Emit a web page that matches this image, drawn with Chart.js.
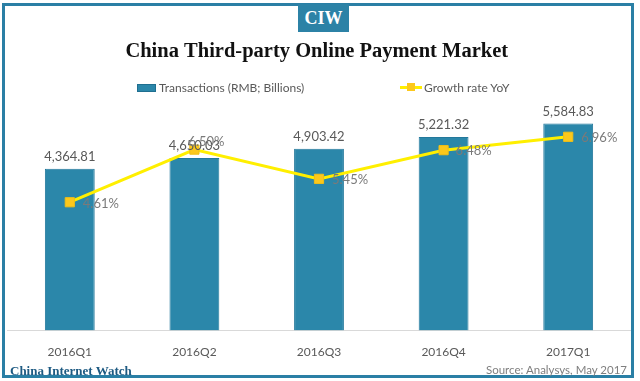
<!DOCTYPE html>
<html>
<head>
<meta charset="utf-8">
<script src="https://cdn.jsdelivr.net/npm/chart.js@4.4.1/dist/chart.umd.min.js"></script>
<style>
  html, body { margin: 0; padding: 0; background: #fff; }
  #wrap { position: relative; width: 640px; height: 381px; overflow: hidden; }
  #c { position: absolute; left: 0; top: 0; }
  #frame { position: absolute; left: 2px; top: 3px; width: 626px; height: 369px; border: 3px solid #2a7fa5; pointer-events: none; }
  #badge { position: absolute; left: 298px; top: 4px; width: 51px; height: 28px; background: #2c82a6; color: #fff;
           font: bold 18px "Liberation Serif", serif; text-align: center; line-height: 29px; }
  .leg { position: absolute; top: 80px; font: 12px Lato, sans-serif; color: #595959; line-height: 15px; white-space: nowrap; }
  #foot1 { position: absolute; left: 10px; top: 363px; font: bold 13px "Liberation Serif", serif; color: #1d5a82; white-space: nowrap; }
  #foot2 { position: absolute; right: 13px; top: 363px; font: 11.5px Lato, sans-serif; color: #7f7f7f; white-space: nowrap; }
</style>
</head>
<body>
<div id="wrap">
  <canvas id="c" width="640" height="381"></canvas>
  <div id="frame"></div>
  <div id="badge">CIW</div>
  <div class="leg" id="leg1" style="left:137px;"><span style="display:inline-block;width:17px;height:6px;background:#2b87aa;border:1px solid #1f6f90;vertical-align:middle;margin-right:3px;position:relative;top:-1px;"></span>Transactions (RMB; Billions)</div>
  <div class="leg" id="leg2" style="left:400px;"><span style="display:inline-block;width:22px;height:9px;position:relative;vertical-align:middle;margin-right:2px;top:-1px;"><span style="position:absolute;left:0;top:3px;width:22px;height:3px;background:#ffef00;"></span><span style="position:absolute;left:7px;top:0;width:8px;height:8px;background:#fcc81c;"></span></span>Growth rate YoY</div>
  <div id="foot1">China Internet Watch</div>
  <div id="foot2">Source: Analysys, May 2017</div>
</div>
<script>
// ---- data ----
const categories = ['2016Q1', '2016Q2', '2016Q3', '2016Q4', '2017Q1'];
const transactions = [4364.81, 4650.03, 4903.42, 5221.32, 5584.83];
const growthRate = [4.61, 6.50, 5.45, 6.48, 6.96];
const transactionLabels = ['4,364.81', '4,650.03', '4,903.42', '5,221.32', '5,584.83'];
const growthLabels = ['4.61%', '6.50%', '5.45%', '6.48%', '6.96%'];

// label placement style (offsets from the point, in px)
const growthLabelOffsets = [[13, 2], [-6, -8], [13, 1], [12, 1], [13, 1]];

const labelPlugin = {
  id: 'valueLabels',
  afterDatasetsDraw(chart) {
    const ctx = chart.ctx;
    ctx.save();
    const barMeta = chart.getDatasetMeta(0);
    ctx.font = '13px Lato, sans-serif';
    ctx.fillStyle = '#595959';
    ctx.textAlign = 'center';
    ctx.textBaseline = 'middle';
    barMeta.data.forEach((el, i) => {
      ctx.fillText(transactionLabels[i], el.x, el.y - 12);
    });
    const lineMeta = chart.getDatasetMeta(1);
    ctx.fillStyle = '#7a7a7a';
    ctx.textAlign = 'left';
    lineMeta.data.forEach((el, i) => {
      const o = growthLabelOffsets[i];
      ctx.fillText(growthLabels[i], el.x + o[0], el.y + o[1]);
    });
    ctx.restore();
  }
};

new Chart(document.getElementById('c'), {
  type: 'bar',
  data: {
    labels: categories,
    datasets: [
      {
        type: 'bar',
        label: 'Transactions (RMB; Billions)',
        data: transactions,
        backgroundColor: '#2b87aa',
        borderColor: '#23789b',
        borderWidth: 1,
        barPercentage: 0.4,
        categoryPercentage: 1.0,
        yAxisID: 'y',
        order: 1
      },
      {
        type: 'line',
        label: 'Growth rate YoY',
        data: growthRate,
        borderColor: '#ffef00',
        borderWidth: 3,
        pointStyle: 'rect',
        pointRadius: 6.5,
        pointBackgroundColor: '#fcc81c',
        pointBorderColor: '#f2bf15',
        pointBorderWidth: 1,
        tension: 0,
        yAxisID: 'y1',
        order: 0
      }
    ]
  },
  options: {
    responsive: false,
    animation: false,
    layout: { padding: { left: 3, right: 9.5, top: 0, bottom: 8 } },
    plugins: {
      legend: { display: false },
      tooltip: { enabled: false },
      title: {
        display: true,
        text: 'China Third-party Online Payment Market',
        color: '#111111',
        font: { family: '"Liberation Serif", serif', size: 20.5, weight: 'bold' },
        padding: { top: 39, bottom: 37 }
      }
    },
    scales: {
      x: {
        offset: true,
        grid: { display: false, drawTicks: false },
        border: { display: true, color: '#d9d9d9', width: 1 },
        ticks: { color: '#595959', font: { family: 'Lato, sans-serif', size: 12 }, padding: 14 }
      },
      y: { display: false, min: 0, max: 6200 },
      y1: { display: false, min: 0, max: 8.26, position: 'right' }
    }
  },
  plugins: [labelPlugin]
});
</script>
</body>
</html>
